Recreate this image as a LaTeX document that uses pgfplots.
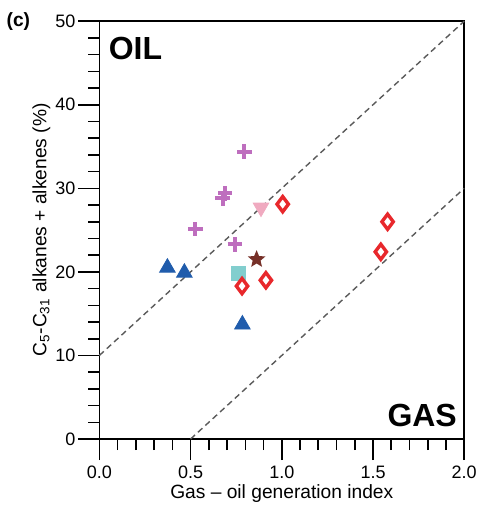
\documentclass[border=0pt]{standalone}
\usepackage{fontspec}
\setmainfont{Liberation Sans}
\usepackage{pgfplots}
\pgfplotsset{compat=1.18}
\usetikzlibrary{plotmarks}

\definecolor{triblue}{RGB}{32,92,172}
\definecolor{crosspurple}{RGB}{190,110,190}
\definecolor{tripink}{RGB}{240,170,192}
\definecolor{diared}{RGB}{232,40,44}
\definecolor{starbrown}{RGB}{118,48,40}
\definecolor{sqcyan}{RGB}{130,206,206}
\definecolor{dashgray}{RGB}{90,90,90}

% filled five-point star
\pgfdeclareplotmark{fstar}{%
  \pgfpathmoveto{\pgfpointpolar{90}{\pgfplotmarksize}}%
  \pgfpathlineto{\pgfpointpolar{126}{0.45\pgfplotmarksize}}%
  \pgfpathlineto{\pgfpointpolar{162}{\pgfplotmarksize}}%
  \pgfpathlineto{\pgfpointpolar{198}{0.45\pgfplotmarksize}}%
  \pgfpathlineto{\pgfpointpolar{234}{\pgfplotmarksize}}%
  \pgfpathlineto{\pgfpointpolar{270}{0.45\pgfplotmarksize}}%
  \pgfpathlineto{\pgfpointpolar{306}{\pgfplotmarksize}}%
  \pgfpathlineto{\pgfpointpolar{342}{0.45\pgfplotmarksize}}%
  \pgfpathlineto{\pgfpointpolar{18}{\pgfplotmarksize}}%
  \pgfpathlineto{\pgfpointpolar{54}{0.45\pgfplotmarksize}}%
  \pgfpathclose\pgfusepathqfill}

\begin{document}
\begin{tikzpicture}
\begin{axis}[
    scale only axis,
    width=182.5pt, height=209pt,
    xmin=0, xmax=2, ymin=0, ymax=50,
    xtick={0,0.5,...,2}, ytick={0,10,...,50},
    minor x tick num=4, minor y tick num=4,
    tick align=outside, xtick pos=bottom, ytick pos=left,
    major tick length=10.5pt, minor tick length=5.5pt,
    axis line style={line width=0.8pt},
    every tick/.style={black, line width=0.8pt},
    /pgf/number format/assume math mode=true,
    ticklabel style={font=\fontsize{9}{10}\selectfont},
    xticklabel style={yshift=0.5pt, /pgf/number format/fixed, /pgf/number format/fixed zerofill, /pgf/number format/precision=1},
    yticklabel style={xshift=2pt},
    xlabel={Gas – oil generation index},
    ylabel={C\textsubscript{5}-C\textsubscript{31} alkanes + alkenes (\%)},
    label style={font=\fontsize{9.6}{11}\selectfont},
    xlabel style={at={(rel axis cs:0.5,0)}, anchor=center, yshift=-27.5pt, inner sep=1pt},
    ylabel style={at={(rel axis cs:0,0.5)}, anchor=center, yshift=29pt, inner sep=1pt},
    clip=false,
]
% boundary lines
\addplot[dashgray, line width=0.7pt, dash pattern=on 3pt off 2pt] coordinates {(0,10) (2,50)};
\addplot[dashgray, line width=0.7pt, dash pattern=on 3pt off 2pt] coordinates {(0.5,0) (2,30)};

% purple crosses
\addplot[only marks, mark=+, mark size=3.6pt, crosspurple, line width=2pt] coordinates {
    (0.795,34.4) (0.690,29.4) (0.676,28.8) (0.526,25.1) (0.743,23.3)
};
% blue triangles
\addplot[only marks, mark=triangle*, mark size=4.5pt, triblue] coordinates {
    (0.373,20.5) (0.466,19.9) (0.784,13.7)
};
% pink down triangle
\addplot[only marks, mark=triangle*, mark size=4.5pt, tripink, mark options={rotate=180}] coordinates {
    (0.886,27.7)
};
% cyan square
\addplot[only marks, mark=square*, mark size=3.4pt, sqcyan] coordinates {
    (0.763,19.8)
};
% brown star
\addplot[only marks, mark=fstar, mark size=4.6pt, starbrown] coordinates {
    (0.862,21.5)
};
% red diamonds
\addplot[only marks, mark=diamond*, mark size=3.8pt, diared, line width=1.7pt, mark options={fill=white, draw=diared}] coordinates {
    (1.005,28.1) (0.913,19.0) (0.782,18.3) (1.580,26.0) (1.543,22.4)
};

\node[anchor=north west, font=\fontsize{16}{18}\selectfont\bfseries, inner sep=0pt] at ([xshift=4.5pt, yshift=-8pt]rel axis cs:0,1) {OIL};
\node[anchor=south east, font=\fontsize{16}{18}\selectfont\bfseries, inner sep=0pt] at ([xshift=-3.5pt, yshift=6pt]rel axis cs:1,0) {GAS};
\node[font=\fontsize{9.6}{11}\selectfont\bfseries] at ([xshift=-40.5pt]rel axis cs:0,1) {(c)};
% top padding
\path ([yshift=10.5pt]rel axis cs:0,1) coordinate (padtop);
\path (padtop) -- +(0,0.1pt);
% bottom padding
\path ([yshift=-33.5pt]rel axis cs:0.5,0) -- +(0,0.1pt);
\end{axis}
\end{tikzpicture}
\end{document}
